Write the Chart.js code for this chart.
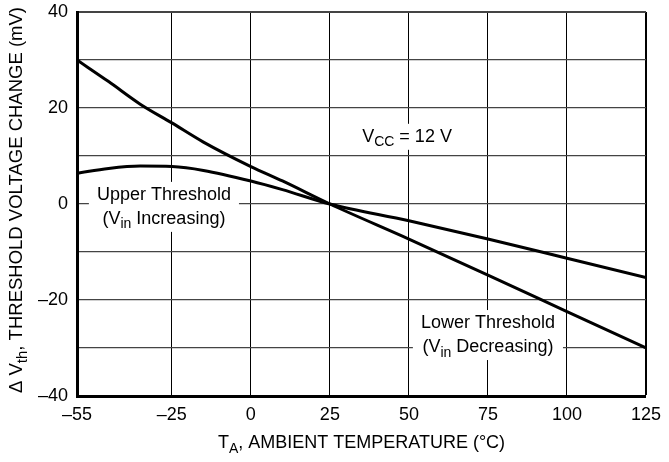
<!DOCTYPE html>
<html>
<head>
<meta charset="utf-8">
<script src="https://cdn.jsdelivr.net/npm/chart.js@4/dist/chart.umd.min.js"></script>
<style>
  html, body { margin: 0; padding: 0; background: #fff; }
  canvas { display: block; }
</style>
</head>
<body>
<canvas id="thresholdChart" width="669" height="462"></canvas>
<script>
const temps = [-55, -45, -35, -25, -15, 0, 10, 25, 50, 75, 100, 125];
// Upper threshold (Vin increasing), change in mV
const upperThreshold = [6.4, 7.4, 7.9, 7.8, 7.0, 4.8, 3.0, 0, -3.5, -7.3, -11.3, -15.3];
// Lower threshold (Vin decreasing), change in mV
const lowerThreshold = [30, 25.5, 20.8, 16.9, 12.9, 7.8, 4.8, 0, -7.3, -14.8, -22.4, -30];

// Axis ticks (grid lines) and the ones that get a label
const xTicks = [-55, -25, 0, 25, 50, 75, 100, 125];
const yTicks = [-40, -30, -20, -10, 0, 10, 20, 30, 40];
const yLabelled = [-40, -20, 0, 20, 40];

const FONT = '"Liberation Sans", Arial, Helvetica, sans-serif';
const SIZE = 18;

// en dash for negatives, like the datasheet
const fmt = v => v < 0 ? '\u2013' + Math.abs(v) : String(v);

// text labels inside the plot, placed in data units; [text, subscript?]
const notes = [
  { x: -27.5, y: -0.6, box: true, lines: [
      [['Upper Threshold', false]],
      [['(V', false], ['in', true], [' Increasing)', false]]
  ]},
  { x: 75, y: -27.3, box: true, lines: [
      [['Lower Threshold', false]],
      [['(V', false], ['in', true], [' Decreasing)', false]]
  ]},
  { x: 49.4, y: 14, box: true, lines: [
      [['V', false], ['CC', true], [' = 12 V', false]]
  ]}
];

function richWidth(ctx, parts, size) {
  let w = 0;
  parts.forEach(([t, sub]) => {
    ctx.font = (sub ? Math.round(size * 0.8) : size) + 'px ' + FONT;
    w += ctx.measureText(t).width;
  });
  return w;
}

function drawRich(ctx, parts, x, y, size) {
  const total = richWidth(ctx, parts, size);
  let cx = x - total / 2;
  ctx.textAlign = 'left';
  ctx.textBaseline = 'middle';
  parts.forEach(([t, sub]) => {
    ctx.font = (sub ? Math.round(size * 0.8) : size) + 'px ' + FONT;
    ctx.fillText(t, cx, y + (sub ? size * 0.32 : 0));
    cx += ctx.measureText(t).width;
  });
}

const textPlugin = {
  id: 'textPlugin',
  beforeDatasetsDraw(chart) {
    const { ctx, scales: { x, y } } = chart;
    const lineH = 24;
    ctx.save();
    notes.forEach(n => {
      const cx = x.getPixelForValue(n.x);
      const cy = y.getPixelForValue(n.y);
      const w = Math.max(...n.lines.map(l => richWidth(ctx, l, SIZE)));
      const h = n.lines.length * lineH;
      if (n.box) {
        ctx.fillStyle = '#fff';
        ctx.fillRect(cx - w / 2 - 8, cy - h / 2 - 1, w + 16, h + 2);
      }
      ctx.fillStyle = '#000';
      n.lines.forEach((l, i) => {
        drawRich(ctx, l, cx, cy - h / 2 + lineH * (i + 0.5), SIZE);
      });
    });
    ctx.restore();
  },
  afterDraw(chart) {
    const { ctx, chartArea } = chart;
    ctx.save();
    ctx.fillStyle = '#000';
    // x axis title
    drawRich(ctx, [['T', false], ['A', true], [', AMBIENT TEMPERATURE (\u00B0C)', false]],
      (chartArea.left + chartArea.right) / 2, 443, SIZE);
    // y axis title, rotated
    ctx.translate(17, (chartArea.top + chartArea.bottom) / 2 - 4);
    ctx.rotate(-Math.PI / 2);
    drawRich(ctx, [['\u0394 V', false], ['th', true], [', THRESHOLD VOLTAGE CHANGE (mV)', false]], 0, 0, 18.5);
    ctx.restore();
  }
};

const ctx = document.getElementById('thresholdChart').getContext('2d');

new Chart(ctx, {
  type: 'line',
  data: {
    datasets: [
      {
        label: 'Lower Threshold',
        data: temps.map((t, i) => ({ x: t, y: lowerThreshold[i] })),
        borderColor: '#000',
        borderWidth: 3,
        pointRadius: 0,
        cubicInterpolationMode: 'monotone',
        fill: false
      },
      {
        label: 'Upper Threshold',
        data: temps.map((t, i) => ({ x: t, y: upperThreshold[i] })),
        borderColor: '#000',
        borderWidth: 3,
        pointRadius: 0,
        cubicInterpolationMode: 'monotone',
        fill: false
      }
    ]
  },
  options: {
    responsive: false,
    animation: false,
    events: [],
    layout: { padding: { left: 0, right: 16, top: 12, bottom: 0 } },
    plugins: {
      legend: { display: false },
      tooltip: { enabled: false }
    },
    scales: {
      x: {
        type: 'linear',
        min: -55,
        max: 125,
        afterBuildTicks: s => { s.ticks = xTicks.map(v => ({ value: v })); },
        afterFit: s => { s.height = 66; },
        ticks: {
          color: '#000',
          font: { family: FONT, size: SIZE },
          padding: 8,
          autoSkip: false,
          maxRotation: 0,
          callback: v => fmt(v)
        },
        grid: {
          color: '#000',
          lineWidth: c => (c.tick && c.tick.value === 125) ? 2 : 1,
          drawTicks: false
        },
        border: { color: '#000', width: 3 }
      },
      y: {
        min: -40,
        max: 40,
        afterBuildTicks: s => { s.ticks = yTicks.map(v => ({ value: v })); },
        // fixed axis width; don't let the top label push the plot down
        afterFit: s => { s.width = 77; s.paddingTop = 0; s.paddingBottom = 0; },
        ticks: {
          color: '#000',
          font: { family: FONT, size: SIZE },
          padding: 9,
          autoSkip: false,
          callback: v => yLabelled.includes(v) ? fmt(v) : ''
        },
        grid: {
          color: '#444',
          lineWidth: c => (c.tick && c.tick.value === 40) ? 2 : 1.2,
          drawTicks: false
        },
        border: { color: '#000', width: 3 }
      }
    }
  },
  plugins: [textPlugin]
});
</script>
</body>
</html>
